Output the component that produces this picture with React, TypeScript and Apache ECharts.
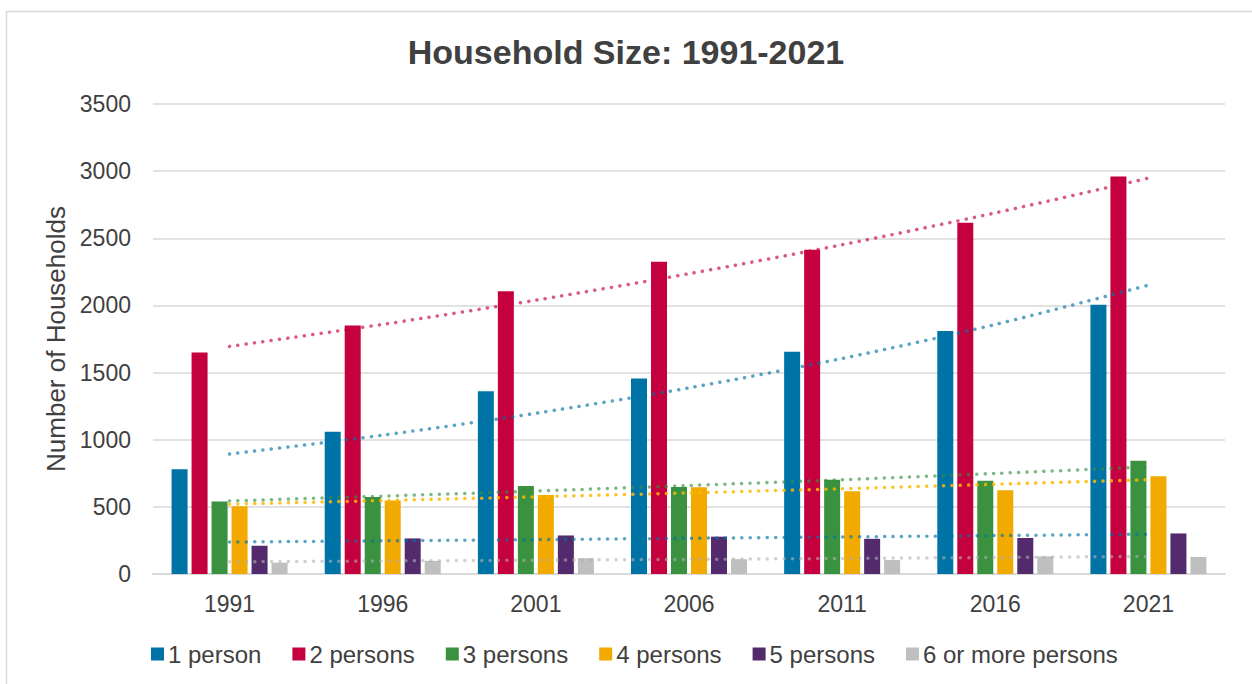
import React, { useEffect, useRef } from "react";
import * as echarts from "echarts";

const categories = ["1991", "1996", "2001", "2006", "2011", "2016", "2021"];
const seriesNames = ["1 person", "2 persons", "3 persons", "4 persons", "5 persons", "6 or more persons"];
const onePerson = [780, 1060, 1360, 1455, 1655, 1810, 2005];
const twoPersons = [1650, 1850, 2105, 2325, 2414, 2615, 2960];
const threePersons = [540, 573, 655, 648, 701, 694, 843];
const fourPersons = [505, 548, 588, 646, 616, 623, 728];
const fivePersons = [210, 265, 287, 278, 262, 268, 302];
const sixPlusPersons = [84, 98, 118, 110, 104, 131, 127];

// dotted trend lines, values read at each census year
const trendOne = [893, 1034, 1197, 1386, 1605, 1858, 2151];
const trendTwo = [1695, 1859, 2039, 2236, 2452, 2689, 2948];
const trendThree = [544, 580, 618, 659, 702, 749, 798];
const trendFour = [520, 547, 575, 604, 635, 668, 702];
const trendFive = [238, 247, 256, 266, 276, 286, 297];
const trendSix = [91, 97, 103, 109, 116, 123, 131];

const yTicks = [0, 3500, 500];

const barColors = ["#0073A6", "#C5003E", "#3A913F", "#F2A900", "#532A6B", "#BFBFBF"];
const trendColors = ["#0073A6", "#C5003E", "#3A913F", "#FFB800", "#0073A6", "#B0B0B0"];
const trendOpacity = [0.65, 0.65, 0.65, 0.85, 0.65, 0.6];

const FONT = "'Liberation Sans', Arial, Helvetica, sans-serif";
const TEXT = "#404040";

export default function App() {
  const ref = useRef<HTMLDivElement>(null);

  useEffect(() => {
    if (!ref.current) return;
    const chart = echarts.init(ref.current, null, { renderer: "svg" });
    const barData = [onePerson, twoPersons, threePersons, fourPersons, fivePersons, sixPlusPersons];
    const trendData = [trendOne, trendTwo, trendThree, trendFour, trendFive, trendSix];

    const bars = barData.map((d, i) => ({
      name: seriesNames[i],
      type: "bar",
      data: d,
      barWidth: 16,
      barGap: "25%",
      itemStyle: { color: barColors[i] },
      z: 2,
    }));
    const trends = trendData.map((d, i) => ({
      name: "trend" + i,
      type: "line",
      data: d,
      smooth: 0.3,
      symbol: "none",
      silent: true,
      z: 5,
      lineStyle: {
        color: trendColors[i],
        width: 3.5,
        type: [0.1, 8.3],
        cap: "round",
        opacity: trendOpacity[i],
      },
    }));

    chart.setOption({
      animation: false,
      backgroundColor: "#ffffff",
      textStyle: { fontFamily: FONT },
      graphic: [
        {
          type: "rect",
          shape: { x: 6.5, y: 11.5, width: 1300, height: 720 },
          style: { fill: "none", stroke: "#D9D9D9", lineWidth: 1.5 },
          silent: true,
          z: -10,
        },
      ],
      title: {
        text: "Household Size: 1991-2021",
        left: "center",
        top: 30,
        textStyle: { fontFamily: FONT, fontSize: 34, fontWeight: "bold", color: TEXT },
      },
      legend: {
        data: seriesNames,
        left: 146,
        top: 637,
        icon: "rect",
        itemWidth: 13,
        itemHeight: 13,
        itemGap: 31,
        textStyle: { fontFamily: FONT, fontSize: 24, color: TEXT, padding: [0, 0, 0, -1] },
      },
      grid: { left: 153, right: 27, top: 104, bottom: 110, containLabel: false },
      xAxis: {
        type: "category",
        data: categories,
        axisLine: { lineStyle: { color: "#D9D9D9", width: 2 } },
        axisTick: { show: false },
        axisLabel: { fontFamily: FONT, fontSize: 23, color: TEXT, margin: 18 },
      },
      yAxis: {
        type: "value",
        min: yTicks[0],
        max: yTicks[1],
        interval: yTicks[2],
        name: "Number of Households",
        nameLocation: "middle",
        nameGap: 82,
        nameTextStyle: { fontFamily: FONT, fontSize: 26, color: TEXT },
        axisLine: { show: false },
        axisTick: { show: false },
        axisLabel: {
          fontFamily: FONT,
          fontSize: 23,
          color: TEXT,
          margin: 22,
          formatter: (v: number) => String(v),
        },
        splitLine: { lineStyle: { color: "#D9D9D9", width: 1.5 } },
      },
      series: [...bars, ...trends],
    });

    return () => chart.dispose();
  }, []);

  return (
    <div
      ref={ref}
      style={{ position: "fixed", left: 0, top: 0, width: 1252, height: 684 }}
    />
  );
}
